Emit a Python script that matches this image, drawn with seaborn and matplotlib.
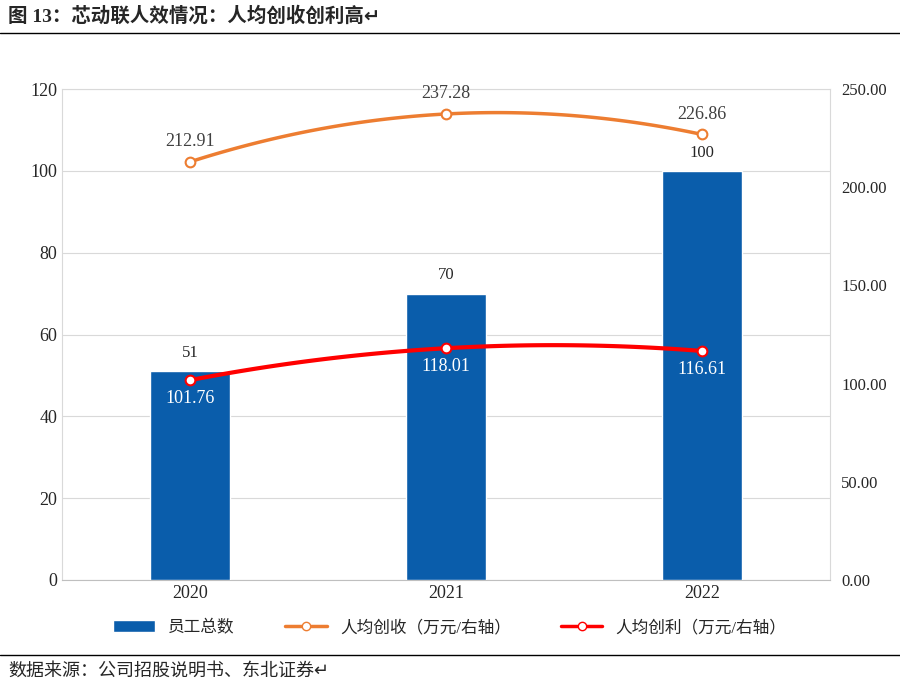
import numpy as np
import pandas as pd
import seaborn as sns
import matplotlib
matplotlib.use("Agg")
import matplotlib.pyplot as plt

years = ["2020", "2021", "2022"]
staff = [51, 70, 100]
rev_pc = [212.91, 237.28, 226.86]
profit_pc = [101.76, 118.01, 116.61]

sns.set_style("white")
plt.rcParams['font.family'] = ['Liberation Serif', 'Noto Sans CJK SC', 'DejaVu Sans']

fig = plt.figure(figsize=(9, 6.91), dpi=100)
ax = fig.add_axes([62/900, 1-580/691, 768/900, 491/691])
df = pd.DataFrame({"year": years, "staff": staff})
sns.barplot(data=df, x="year", y="staff", ax=ax, color="#0a5dab", width=0.31,
            saturation=1, label="员工总数", zorder=3)
if ax.get_legend() is not None:
    ax.get_legend().remove()
ax.set_xlim(-0.5, 2.5)
ax.set_ylim(0, 120)
ax.set_yticks(range(0, 121, 20))
ax.yaxis.grid(True, color="#d9d9d9", lw=0.8, zorder=0)
ax.set_xlabel(""); ax.set_ylabel("")
ax.tick_params(labelsize=13, length=0)
for s in ax.spines.values():
    s.set_color("#d9d9d9")
ax.spines["bottom"].set_color("#bfbfbf")
for i, v in enumerate(staff):
    ax.text(i, v + 2.5, str(v), ha="center", va="bottom", fontsize=12)

ax2 = ax.twinx()
ax2.set_ylim(0, 250)
ax2.set_yticks(range(0, 251, 50))
ax2.set_yticklabels([f"{v:.2f}" for v in range(0, 251, 50)])
ax2.tick_params(labelsize=12, length=0, pad=8)
for s in ax2.spines.values():
    s.set_visible(False)

x = np.arange(3)
xs = np.linspace(0, 2, 100)
for vals, col, lab in [(rev_pc, "#ed7d31", "人均创收（万元/右轴）"), (profit_pc, "#ff0000", "人均创利（万元/右轴）")]:
    c = np.polyfit(x, vals, 2)
    ax2.plot(xs, np.polyval(c, xs), color=col, lw=3 if col == "#ff0000" else 2.5, zorder=4)
    ax2.plot(x, vals, "o", mfc="white", mec=col, ms=7, mew=1.5, zorder=5)
    ax2.plot([], [], color=col, lw=2.5, marker="o", mfc="white", mec=col, label=lab)
for i, v in enumerate(rev_pc):
    ax2.text(i, v + 6, f"{v:.2f}", ha="center", va="bottom", fontsize=13, color="#404040")
for i, v in enumerate(profit_pc):
    ax2.text(i, v - 5, f"{v:.2f}", ha="center", va="top", fontsize=13, color="white")

h1, l1 = ax.get_legend_handles_labels()
h2, l2 = ax2.get_legend_handles_labels()
fig.legend(h1 + h2, l1 + l2, loc="center", bbox_to_anchor=(0.5, 1-628/691), ncol=3,
           frameon=False, fontsize=12, handlelength=2.5, columnspacing=3)

fig.text(8/900, 1-16/691, "图 13：芯动联人效情况：人均创收创利高↵", fontsize=14, fontweight="bold", va="center")
fig.add_artist(plt.Line2D([0, 1], [1-33/691]*2, color="black", lw=1))
fig.add_artist(plt.Line2D([0, 1], [1-655/691]*2, color="black", lw=1))
fig.text(8/900, 1-671/691, "数据来源：公司招股说明书、东北证券↵", fontsize=13, va="center")
fig.savefig("out.png", dpi=100)
